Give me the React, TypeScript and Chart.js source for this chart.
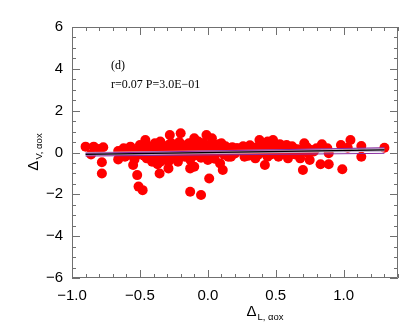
import React, { useEffect, useRef } from "react";
import { Chart, registerables } from "chart.js";

Chart.register(...registerables);

// ---- data ----
const xTickValues = [-1.0, -0.5, 0.0, 0.5, 1.0];
const yTickValues = [-6, -4, -2, 0, 2, 4, 6];

const pointX = [
  -0.90, -0.86, -0.84, -0.80, -0.77, -0.78, -0.78,
  -0.66, -0.66, -0.62, -0.61, -0.57, -0.59, -0.54, -0.55, -0.52, -0.51, -0.48,
  -0.50, -0.46, -0.46, -0.45, -0.41, -0.39, -0.40, -0.37, -0.355,
  -0.35, -0.28, -0.20, -0.29, -0.35, -0.29, -0.29, -0.22, -0.21, -0.14, -0.13,
  -0.10, -0.10, -0.07, -0.01, 0.03, 0.00, 0.01, -0.13, -0.05, 0.10, 0.09, 0.11,
  0.16, 0.21, 0.15, -0.03,
  0.22, 0.27, 0.33, 0.35, 0.38, 0.41, 0.42, 0.44, 0.48, 0.44, 0.52, 0.54, 0.58,
  0.59, 0.63, 0.68, 0.71, 0.70, 0.75, 0.76, 0.80, 0.83, 0.84, 0.88, 0.89, 0.89,
  0.98, 0.99, 1.03, 1.05, 1.13, 1.13, 1.30,
  -0.60, -0.58, -0.56, -0.53, -0.52, -0.50, -0.48, -0.47,
  -0.44, -0.42, -0.40, -0.38, -0.36, -0.34, -0.33, -0.31, -0.30, -0.28, -0.27,
  -0.26, -0.25, -0.24, -0.23, -0.22, -0.21, -0.20, -0.19, -0.18, -0.17, -0.16,
  -0.15, -0.14, -0.13, -0.12, -0.11, -0.10, -0.09, -0.08, -0.07, -0.06, -0.05,
  -0.04, -0.03, -0.02, -0.01, 0.00, 0.02, 0.03, 0.04, 0.05, 0.06, 0.07, 0.08,
  0.10, 0.12, 0.13, 0.15, 0.17, 0.18, 0.20, 0.24, 0.26, 0.28, 0.30, 0.31, 0.34,
  0.36, 0.37, 0.39, 0.40, 0.42, 0.45, 0.46, 0.49, 0.50, 0.53, 0.55, 0.56, 0.60,
  0.62, 0.65, 0.66, 0.70, 0.73, 0.74, 0.78,
];
const pointY = [
  0.28, -0.09, 0.28, 0.17, 0.25, -0.47, -1.00,
  0.07, -0.33, 0.20, -0.20, 0.28, -0.12, -0.33, -0.60, -1.08, -1.63, -1.80,
  0.36, 0.60, 0.12, -0.28, -0.44, 0.44, -0.04, -0.56, -1.00,
  0.52, 0.84, 0.92, 0.36, -0.44, -0.44, -0.76, -0.44, 0.28, 0.44, -0.76,
  -0.68, 0.68, 0.52, 0.84, 0.68, -0.36, -1.24, -1.88, -2.03, 0.44, -0.52, -0.84,
  0.20, 0.20, -0.20, 0.12,
  0.20, -0.20, 0.20, -0.28, 0.60, 0.20, -0.60, 0.52, 0.60, -0.20, -0.20, 0.20, 0.36,
  -0.28, 0.20, -0.28, 0.44, -0.84, -0.36, 0.12, 0.20, -0.56, 0.39, 0.20, -0.04, -0.56,
  0.36, -0.80, 0.23, 0.60, 0.31, -0.20, 0.23,
  0.10, 0.00, 0.15, 0.05, -0.10, 0.20, 0.00, -0.15,
  0.30, 0.05, 0.25, -0.15, 0.15, 0.35, -0.05, 0.10, -0.25, 0.20, 0.45,
  -0.10, 0.05, 0.30, -0.30, 0.15, 0.50, -0.05, 0.25, 0.10, -0.20, 0.35,
  0.00, 0.20, -0.35, 0.30, 0.05, -0.15, 0.40, 0.15, -0.05, 0.30, -0.25,
  0.10, 0.45, -0.10, 0.20, 0.05, 0.35, -0.15, 0.15, -0.30, 0.25, 0.00, 0.40,
  0.10, -0.10, 0.30, 0.05, -0.20, 0.25, -0.05, 0.10, 0.30, 0.00, -0.15, 0.35, 0.05,
  0.25, -0.10, 0.40, 0.00, 0.30, 0.15, -0.10, 0.30, 0.05, 0.40, -0.05, 0.20, 0.05,
  0.30, -0.10, 0.15, 0.05, 0.25, -0.05, 0.05,
];

const fitX = [-0.9, 1.3];
const fitBlackY = [-0.09, 0.13];
const fitBandY = [-0.07, 0.13];
const fitUpperY = [-0.04, 0.23];
const fitLowerY = [-0.17, -0.04];

const panelLabel = "(d)";
const statsLabel = "r=0.07 P=3.0E\u221201";

const fmt = (v: number, digits: number) =>
  (v < 0 ? "\u2212" : "") + Math.abs(v).toFixed(digits);

const framePlugin = {
  id: "idlFrame",
  afterDraw(chart: any) {
    const { ctx, chartArea: a, scales } = chart;
    const xs = scales.x;
    const ys = scales.y;
    ctx.save();
    ctx.strokeStyle = "#707070";
    ctx.lineWidth = 1;
    ctx.beginPath();
    ctx.rect(a.left + 0.5, a.top + 0.5, a.right - a.left - 1, a.bottom - a.top - 1);
    ctx.stroke();
    ctx.beginPath();
    // x ticks (bottom + top)
    for (let i = -10; i <= 14; i++) {
      const v = i / 10;
      const px = Math.round(xs.getPixelForValue(v)) + 0.5;
      const len = i % 5 === 0 ? 8 : 4;
      ctx.moveTo(px, a.bottom);
      ctx.lineTo(px, a.bottom - len);
      ctx.moveTo(px, a.top);
      ctx.lineTo(px, a.top + len);
    }
    // y ticks (left + right)
    for (let i = -12; i <= 12; i++) {
      const v = i / 2;
      const py = Math.round(ys.getPixelForValue(v)) + 0.5;
      const len = i % 4 === 0 ? 8 : 4;
      ctx.moveTo(a.left, py);
      ctx.lineTo(a.left + len, py);
      ctx.moveTo(a.right, py);
      ctx.lineTo(a.right - len, py);
    }
    ctx.stroke();

    // annotations
    ctx.fillStyle = "#000";
    ctx.font = "12px 'Liberation Serif', serif";
    ctx.textBaseline = "alphabetic";
    ctx.textAlign = "left";
    ctx.fillText(panelLabel, 111, 69);
    ctx.fillText(statsLabel, 111, 88);

    // x title
    const big = "15px 'Liberation Sans', Arial, sans-serif";
    const small = "9.5px 'Liberation Sans', Arial, sans-serif";
    ctx.font = big;
    const wD = ctx.measureText("\u0394").width;
    ctx.font = small;
    const xsub = "L, \u03b1ox";
    const wX = ctx.measureText(xsub).width;
    const xStart = 265 - (wD + 1 + wX) / 2;
    ctx.font = big;
    ctx.fillText("\u0394", xStart, 316);
    ctx.font = small;
    ctx.fillText(xsub, xStart + wD + 1, 320);

    // y title (rotated)
    const ysub = "V, \u03b1ox";
    const wY = ctx.measureText(ysub).width;
    ctx.translate(38, 152);
    ctx.rotate(-Math.PI / 2);
    const yStart = -(wD + 1 + wY) / 2;
    ctx.font = big;
    ctx.fillText("\u0394", yStart, 0);
    ctx.font = small;
    ctx.fillText(ysub, yStart + wD + 1, 4);
    ctx.restore();
  },
};

export default function App() {
  const ref = useRef<HTMLCanvasElement | null>(null);
  useEffect(() => {
    if (!ref.current) return;
    const pts = pointX.map((x, i) => ({ x, y: pointY[i] }));
    const line = (ys: number[]) => fitX.map((x, i) => ({ x, y: ys[i] }));
    const tickFont = { family: "'Liberation Sans', Arial, sans-serif", size: 15 };
    const chart = new Chart(ref.current, {
      type: "scatter",
      data: {
        datasets: [
          {
            type: "line",
            data: line(fitBlackY),
            borderColor: "#000000",
            borderWidth: 1.2,
            pointRadius: 0,
            order: 1,
          } as any,
          {
            type: "line",
            data: line(fitUpperY),
            borderColor: "#8a2ca0",
            borderWidth: 1,
            pointRadius: 0,
            order: 2,
          } as any,
          {
            type: "line",
            data: line(fitLowerY),
            borderColor: "#8a2ca0",
            borderWidth: 1,
            pointRadius: 0,
            order: 2,
          } as any,
          {
            type: "line",
            data: line(fitBandY),
            borderColor: "rgba(190,180,205,0.9)",
            borderWidth: 4,
            pointRadius: 0,
            order: 3,
          } as any,
          {
            data: pts,
            backgroundColor: "#ff0000",
            borderWidth: 0,
            pointRadius: 5,
            pointHoverRadius: 5,
            order: 5,
          },
        ],
      },
      options: {
        responsive: false,
        animation: false,
        devicePixelRatio: 1,
        layout: { padding: { left: 0, right: 17, top: 27, bottom: 0 } },
        plugins: { legend: { display: false }, tooltip: { enabled: false } },
        scales: {
          x: {
            type: "linear",
            min: -1.0,
            max: 1.4,
            grid: { display: false, drawTicks: false },
            border: { display: false },
            afterBuildTicks: (s: any) => {
              s.ticks = xTickValues.map((v) => ({ value: v }));
            },
            afterFit: (s: any) => {
              s.height = 54;
            },
            ticks: {
              padding: 9,
              color: "#000",
              font: tickFont,
              maxRotation: 0,
              callback: (v: any) => fmt(Number(v), 1),
            },
          },
          y: {
            type: "linear",
            min: -6,
            max: 6,
            grid: { display: false, drawTicks: false },
            border: { display: false },
            afterBuildTicks: (s: any) => {
              s.ticks = yTickValues.map((v) => ({ value: v }));
            },
            afterFit: (s: any) => {
              s.width = 72;
            },
            ticks: {
              padding: 9,
              color: "#000",
              font: tickFont,
              callback: (v: any) => fmt(Number(v), 0),
            },
          },
        },
      },
      plugins: [framePlugin],
    } as any);
    return () => chart.destroy();
  }, []);
  return (
    <div style={{ position: "fixed", left: 0, top: 0, width: 415, height: 332, background: "#fff" }}>
      <canvas ref={ref} width={415} height={332} style={{ display: "block" }} />
    </div>
  );
}
